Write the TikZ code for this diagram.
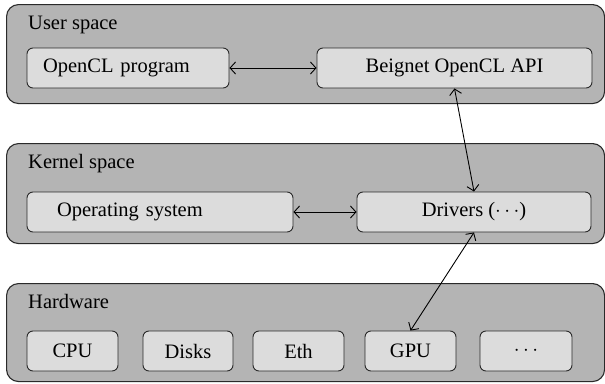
\documentclass[tikz,border=0pt]{standalone}
\usepackage{fontspec}
\setmainfont{Liberation Serif}
\usetikzlibrary{arrows.meta}
\definecolor{layerfill}{HTML}{B4B4B4}
\definecolor{boxfill}{HTML}{DCDCDC}
\definecolor{edge}{HTML}{2A2A2A}
\begin{document}
\begin{tikzpicture}[x=1pt,y=-1pt,
  layer/.style={draw=edge, fill=layerfill, line width=1.1pt, rounded corners=12pt,
    anchor=north west, inner sep=0pt},
  layertitle/.style={anchor=base west, inner sep=0pt, font=\fontsize{20.5}{24}\selectfont},
  unit/.style={draw=edge, fill=boxfill, line width=0.9pt, rounded corners=6pt,
    minimum height=40pt, inner sep=0pt, font=\fontsize{20.5}{24}\selectfont},
  leftunit/.style={unit, align=left, inner xsep=#1},
  link/.style={draw=black, line width=0.9pt,
    {Straight Barb[length=5.5pt,width=12pt]}-{Straight Barb[length=5.5pt,width=12pt]}}
]
\useasboundingbox (0,0) rectangle (605,383);

% three layers
\node[layer, minimum width=598pt, minimum height=99pt] (userL) at (6,4) {};
\node[layer, minimum width=598pt, minimum height=100pt] (kernelL) at (6,143) {};
\node[layer, minimum width=598pt, minimum height=98pt] (hwL) at (6,283) {};

\node[layertitle] (userT) at (28,29) {User space};
\node[layertitle] (kernelT) at (28,168) {Kernel space};
\node[layertitle] (hwT) at (28,308) {Hardware};

% user space
\node[leftunit=16pt, text width=170pt, minimum width=202pt] (ocl) at (128,68) {OpenCL program};
\node[unit, minimum width=275pt] (api) at (454.5,68) {Beignet OpenCL API};

% kernel space
\node[leftunit=30pt, text width=206pt, minimum width=266pt] (os) at (160,212) {Operating system};
\node[unit, minimum width=234pt] (drv) at (474,212) {Drivers ($\cdots$)};

% hardware
\node[unit, minimum width=91pt] (cpu) at (72.5,351) {CPU};
\node[unit, minimum width=90pt] (disk) at (188,351) {Disks};
\node[unit, minimum width=91pt] (eth) at (298.5,351) {Eth};
\node[unit, minimum width=91pt] (gpu) at (410.5,351) {GPU};
\node[unit, minimum width=92pt] (more) at (526,351) {$\cdots$};

% connections
\draw[link] (ocl.east) -- (api.west);
\draw[link] (os.east) -- (drv.west);
\draw[link] (api.south) -- (drv.north);
\draw[link] (drv.south) -- (gpu.north);
\end{tikzpicture}
\end{document}
